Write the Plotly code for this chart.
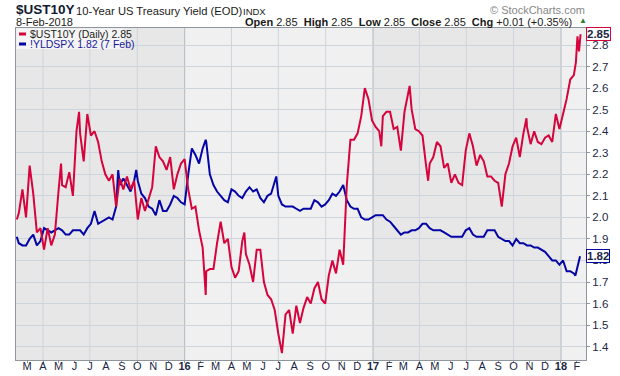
import pandas as pd
import plotly.graph_objects as go

# ---------------- data (weekly Friday closes) ----------------
ust_2015 = [2.02, 2.13, 2.00, 2.24, 2.11, 1.93, 1.95, 1.85, 1.95, 1.87, 1.92,
            2.12, 2.15, 2.14, 2.21, 2.10, 2.40, 2.39, 2.26, 2.48, 2.38, 2.40,
            2.35, 2.26, 2.20, 2.17, 2.20, 2.05, 2.18, 2.13, 2.19, 2.13, 2.17,
            1.99, 2.09, 2.03, 2.08, 2.14, 2.33, 2.28, 2.26, 2.22, 2.28, 2.13,
            2.20, 2.25, 2.27]
ust_2016 = [2.13, 2.04, 2.05, 1.94, 1.86, 1.75, 1.76, 1.76, 1.88, 1.98, 1.88,
            1.90, 1.77, 1.72, 1.75, 1.89, 1.83, 1.78, 1.70, 1.85, 1.85, 1.70,
            1.64, 1.62, 1.57, 1.46, 1.37, 1.55, 1.57, 1.46, 1.59, 1.51, 1.58,
            1.63, 1.60, 1.67, 1.70, 1.62, 1.60, 1.73, 1.80, 1.74, 1.85, 1.78,
            2.15, 2.36, 2.36, 2.39, 2.47, 2.60, 2.55, 2.45]
ust_2017 = [2.42, 2.40, 2.47, 2.49, 2.49, 2.41, 2.42, 2.31, 2.49, 2.58, 2.50,
            2.41, 2.40, 2.38, 2.24, 2.25, 2.28, 2.35, 2.33, 2.23, 2.25, 2.16,
            2.20, 2.16, 2.15, 2.31, 2.39, 2.33, 2.24, 2.29, 2.26, 2.19, 2.19,
            2.17, 2.16, 2.05, 2.20, 2.25, 2.33, 2.37, 2.28, 2.39, 2.42, 2.34,
            2.40, 2.35, 2.34, 2.37, 2.38, 2.35, 2.48, 2.41]
ust_2018 = [2.48, 2.55, 2.64, 2.66, 2.84]
ust_extra_dates = ["2015-02-09", "2015-05-06", "2015-06-10", "2016-02-11",
                   "2016-04-26", "2017-01-17", "2017-03-13", "2017-04-18",
                   "2017-10-26", "2018-01-30", "2018-02-05", "2018-02-08"]
ust_extra_vals = [1.99, 2.25, 2.49, 1.64, 1.93, 2.33, 2.61, 2.17, 2.46,
                  2.72, 2.77, 2.85]

spx_2015 = [1.88, 1.87, 1.87, 1.90, 1.92, 1.87, 1.89, 1.95, 1.94, 1.93, 1.94,
            1.95, 1.94, 1.92, 1.92, 1.94, 1.94, 1.94, 1.92, 1.95, 1.97, 2.03,
            1.97, 1.98, 1.99, 2.00, 1.99, 2.05, 2.15, 2.18, 2.15, 2.12, 2.17,
            2.17, 2.11, 2.09, 2.05, 2.04, 2.01, 2.08, 2.03, 2.03, 2.06, 2.10,
            2.09, 2.07, 2.06]
spx_2016 = [2.20, 2.32, 2.29, 2.25, 2.32, 2.35, 2.20, 2.15, 2.12, 2.10, 2.08,
            2.07, 2.13, 2.12, 2.10, 2.09, 2.12, 2.14, 2.12, 2.13, 2.09, 2.07,
            2.10, 2.11, 2.17, 2.10, 2.06, 2.05, 2.05, 2.05, 2.04, 2.03, 2.04,
            2.04, 2.04, 2.08, 2.07, 2.05, 2.06, 2.08, 2.11, 2.10, 2.12, 2.15,
            2.08, 2.05, 2.04, 2.04, 2.00, 1.99, 1.99, 2.00]
spx_2017 = [2.01, 2.01, 2.01, 1.99, 1.98, 1.96, 1.94, 1.92, 1.93, 1.93, 1.94,
            1.94, 1.95, 1.97, 1.97, 1.95, 1.94, 1.94, 1.94, 1.93, 1.92, 1.91,
            1.91, 1.91, 1.91, 1.94, 1.95, 1.92, 1.91, 1.91, 1.91, 1.94, 1.94,
            1.94, 1.91, 1.90, 1.89, 1.89, 1.87, 1.90, 1.88, 1.88, 1.87, 1.87,
            1.86, 1.86, 1.85, 1.84, 1.82, 1.80, 1.80, 1.78]
spx_2018 = [1.80, 1.75, 1.75, 1.74]
spx_extra_dates = ["2015-02-09", "2015-08-25", "2015-09-29", "2016-02-11",
                   "2016-06-27", "2018-01-29", "2018-02-02", "2018-02-05",
                   "2018-02-07"]
spx_extra_vals = [1.91, 2.22, 2.22, 2.36, 2.19, 1.73, 1.77, 1.81, 1.82]

year_starts = {"2015": "2015-02-13", "2016": "2016-01-08",
               "2017": "2017-01-06", "2018": "2018-01-05"}

month_letters = ["J", "F", "M", "A", "M", "J", "J", "A", "S", "O", "N", "D"]
y_ticks = [1.4, 1.5, 1.6, 1.7, 1.8, 1.9, 2.0, 2.1, 2.2, 2.3, 2.4, 2.5, 2.6, 2.7, 2.8]

RED = "#d5043c"
BLUE = "#0505a5"
TXT = "#1b2744"


def build(series_by_year, extra_dates, extra_vals):
    parts = []
    for yr, vals in series_by_year.items():
        d = pd.date_range(year_starts[yr], periods=len(vals), freq="W-FRI")
        parts.append(pd.Series(vals, index=d))
    parts.append(pd.Series(extra_vals, index=pd.to_datetime(extra_dates)))
    s = pd.concat(parts)
    s = s[~s.index.duplicated(keep="last")].sort_index()
    return s


ust = build({"2015": ust_2015, "2016": ust_2016, "2017": ust_2017, "2018": ust_2018},
            ust_extra_dates, ust_extra_vals)
spx = build({"2015": spx_2015, "2016": spx_2016, "2017": spx_2017, "2018": spx_2018},
            spx_extra_dates, spx_extra_vals)

# ---------------- figure ----------------
W, H = 620, 376
L, R, T, B = 16, 586, 28, 360


def px(x):
    return (x - L) / (R - L)


def py(y):
    return (B - y) / (B - T)


fig = go.Figure()
fig.add_trace(go.Scatter(x=spx.index, y=spx.values, mode="lines",
                         line=dict(color=BLUE, width=2), name="!YLDSPX"))
fig.add_trace(go.Scatter(x=ust.index, y=ust.values, mode="lines",
                         line=dict(color=RED, width=2), name="$UST10Y"))

x0, x1 = "2015-02-07 12:00", "2018-02-18 14:00"
months = pd.date_range("2015-03-01", "2018-02-01", freq="MS")
ticktext = [("<b>%02d</b>" % (m.year % 100)) if m.month == 1 else month_letters[m.month - 1]
            for m in months]

shapes = []
# alternating year bands
for a, b in [(x0, "2016-01-01"), ("2017-01-01", "2018-01-01")]:
    shapes.append(dict(type="rect", xref="x", yref="paper", x0=a, x1=b, y0=0, y1=1,
                       fillcolor="#e7e7e7", line=dict(width=0), layer="below"))
# quarter grid lines
for q in pd.date_range("2015-04-01", "2018-01-01", freq="QS"):
    col = "#b9c1ca" if q.month == 1 else "#cdd4dd"
    shapes.append(dict(type="line", xref="x", yref="paper", x0=q, x1=q, y0=0, y1=1,
                       line=dict(color=col, width=1.2 if q.month == 1 else 1), layer="below"))
# legend box
shapes.append(dict(type="rect", xref="paper", yref="paper", x0=px(16.5), x1=px(124),
                   y0=py(49), y1=py(28.5), fillcolor="rgba(255,255,255,0.6)",
                   line=dict(width=0), layer="above"))
shapes.append(dict(type="line", xref="paper", yref="paper", x0=px(19), x1=px(26),
                   y0=py(34), y1=py(34), line=dict(color=RED, width=3)))
shapes.append(dict(type="line", xref="paper", yref="paper", x0=px(19), x1=px(26),
                   y0=py(44), y1=py(44), line=dict(color=BLUE, width=3)))

ann = []
F = "Liberation Sans, Arial, sans-serif"


def text(x, y, s, size, color=TXT, xanchor="left", family=F):
    ann.append(dict(xref="paper", yref="paper", x=px(x), y=py(y), text=s, showarrow=False,
                    xanchor=xanchor, yanchor="middle", font=dict(size=size, color=color,
                                                                 family=family)))


text(14, 10, "<b>$UST10Y</b>", 13.5, color="#111a30")
text(74, 11, "10-Year US Treasury Yield (EOD)", 11.2, color="#1a1a1a")
text(241, 11, "INDX", 9.5, color="#1a1a1a")
text(14, 22, "8-Feb-2018", 11, color="#1a1a1a")
text(587, 10, "© StockCharts.com", 11, color="#888888", xanchor="right")
text(574, 22, "<b>Open</b> 2.85&#160; <b>High</b> 2.85&#160; <b>Low</b> 2.85&#160; "
              "<b>Close</b> 2.85&#160; <b>Chg</b> +0.01 (+0.35%)", 11,
     color="#1a1a1a", xanchor="right")
text(577, 21, "▲", 8, color="#2f7d32")
text(28, 34, "$UST10Y (Daily) 2.85", 10.5, color="#222222")
text(28, 44, "!YLDSPX 1.82 (7 Feb)", 10.5, color="#1a1a9a")

# last value boxes on the right axis
for val, col in [(ust.values[-1], RED), (spx.values[-1], BLUE)]:
    ann.append(dict(xref="paper", yref="y", x=px(586), y=val, text="<b>%.2f</b>" % val,
                    showarrow=False, xanchor="left", yanchor="middle",
                    font=dict(size=11.5, color=TXT, family=F), bgcolor="white",
                    bordercolor=col, borderwidth=1, borderpad=0))

fig.update_layout(
    width=W, height=H,
    margin=dict(l=L, r=W - R, t=T, b=H - B, pad=0, autoexpand=False),
    paper_bgcolor="white", plot_bgcolor="#f0f0f0",
    showlegend=False,
    font=dict(family=F, size=11, color=TXT),
    shapes=shapes, annotations=ann,
    xaxis=dict(type="date", range=[x0, x1], tickvals=months, ticktext=ticktext,
               showgrid=False, zeroline=False, showline=True, linecolor="#8f959c",
               mirror=True, ticks="outside", ticklen=2, tickcolor="#8f959c",
               tickfont=dict(size=11, color=TXT, family=F), tickangle=0,
               ticklabelstandoff=-6, automargin=False),
    yaxis=dict(side="right", range=[1.338, 2.879], tickvals=y_ticks,
               ticktext=["%.1f" % v for v in y_ticks], showgrid=True,
               gridcolor="#cdd4dd", gridwidth=1, zeroline=False, showline=True,
               linecolor="#8f959c", mirror=True, ticks="outside", ticklen=3,
               tickcolor="#8f959c", tickfont=dict(size=11.5, color=TXT, family=F),
               automargin=False),
)

fig.write_html("out.html", config={"displayModeBar": False},
               post_script="document.body.style.margin='0';document.body.style.overflow='hidden';")
